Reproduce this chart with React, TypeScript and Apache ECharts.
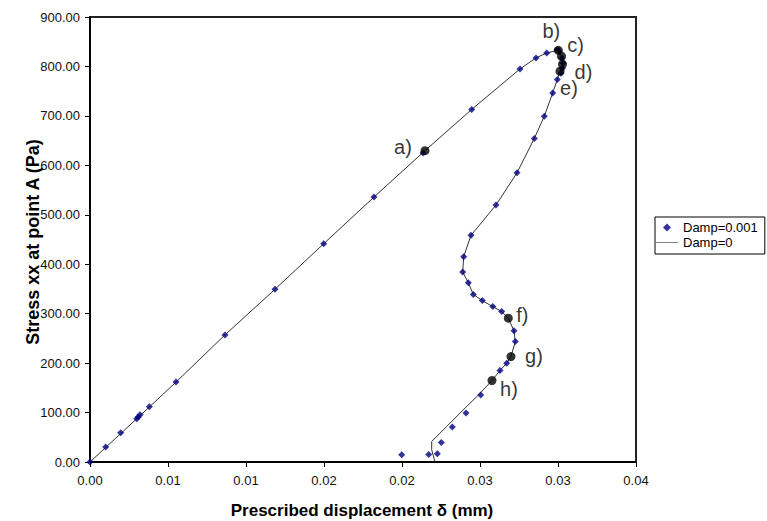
import React, { useEffect, useRef } from "react";
import * as echarts from "echarts";

const FONT = "'Liberation Sans', Arial, sans-serif";

const xTickLabels = ["0.00", "0.01", "0.01", "0.02", "0.02", "0.03", "0.03", "0.04"];
const yTickLabels = ["0.00", "100.00", "200.00", "300.00", "400.00", "500.00", "600.00", "700.00", "800.00", "900.00"];
const xMin = 0;
const xMax = 0.035;
const xInterval = 0.005;
const yMin = 0;
const yMax = 900;
const yInterval = 100;

const xTitle = "Prescribed displacement δ (mm)";
const yTitle = "Stress xx at point A (Pa)";
const seriesNames = ["Damp=0.001", "Damp=0"];

// Damp=0.001 : blue diamonds
const damp0001Points: [number, number][] = [
  [0, 0], [0.001006, 30.3], [0.001968, 59.2], [0.002994, 87.5], [0.003096, 90.9],
  [0.003205, 95.5], [0.003801, 111.7], [0.005513, 161.6], [0.008654, 257.1], [0.011859, 349.4],
  [0.014981, 441.5], [0.018205, 535.8], [0.021346, 624.7], [0.024468, 713], [0.027564, 795],
  [0.02859, 817.2], [0.029276, 827.3], [0.029955, 834.1], [0.030064, 830.7], [0.030256, 816.6],
  [0.030321, 806.5], [0.030288, 796.4], [0.030192, 786.3], [0.029955, 773.5], [0.02966, 746.5],
  [0.029122, 699.4], [0.028481, 654.4], [0.027372, 584.9], [0.026026, 519.7], [0.024423, 458.5],
  [0.023955, 415.3], [0.023891, 384.3], [0.02425, 362.7], [0.024571, 338.9], [0.025147, 326.4],
  [0.025821, 314.3], [0.026391, 304.2], [0.027179, 265.2], [0.027263, 243.6], [0.026712, 199.9],
  [0.026282, 185], [0.025045, 135.3], [0.024103, 99], [0.023224, 70.7], [0.022519, 39.6],
  [0.022263, 16.8], [0.021712, 15.3], [0.019981, 14.7],
];

// Damp=0 : thin line
const damp0Points: [number, number][] = [
  [0, 0], [0.002994, 87.5], [0.005513, 161.6], [0.008654, 257.1], [0.011859, 349.4],
  [0.014981, 441.5], [0.018205, 535.8], [0.021474, 629.7], [0.024468, 713], [0.027564, 795],
  [0.02859, 817.2], [0.029276, 827.3], [0.030019, 832.7], [0.030224, 820.6], [0.030288, 804.4],
  [0.030128, 790.3], [0.029955, 773.5], [0.02966, 746.5], [0.029122, 699.4], [0.028481, 654.4],
  [0.027372, 584.9], [0.026026, 519.7], [0.024423, 458.5], [0.023955, 415.3], [0.023891, 384.3],
  [0.02425, 362.7], [0.024571, 338.9], [0.025147, 326.4], [0.025821, 314.3], [0.026391, 304.2],
  [0.026814, 290.8], [0.027179, 265.2], [0.027263, 243.6], [0.026987, 213.3], [0.026712, 199.9],
  [0.026282, 185], [0.025769, 164.8], [0.024891, 135.3], [0.023718, 99], [0.022865, 71.9],
  [0.021904, 41.6], [0.021904, 24.8], [0.022115, 0],
];

// marked states a) ... h)
const markedNames = ["a)", "b)", "c)", "d)", "e)", "f)", "g)", "h)"];
const markedPoints: [number, number][] = [
  [0.021474, 629.7], [0.030019, 832.7], [0.030224, 820.6], [0.030288, 804.4],
  [0.030128, 790.3], [0.026814, 290.8], [0.026987, 213.3], [0.025769, 164.8],
];
// label offsets (style only)
const markedLabelOffsets: [number, number][] = [
  [-22, -4], [-7, -19], [14, -11], [21, 8], [9, 17], [14, -3], [23, -1], [17, 8],
];

export default function App() {
  const ref = useRef<HTMLDivElement>(null);

  useEffect(() => {
    if (!ref.current) return;
    const chart = echarts.init(ref.current, null, { renderer: "svg" });
    const axisCommon = {
      axisLine: { show: true, onZero: false, lineStyle: { color: "#000", width: 2 } },
      axisTick: { show: true, inside: false, length: 5, lineStyle: { color: "#000", width: 1 } },
      splitLine: { show: false },
    };
    chart.setOption({
      animation: false,
      backgroundColor: "#fff",
      textStyle: { fontFamily: FONT },
      grid: {
        left: 90, top: 17, right: 131, bottom: 59,
        show: true, borderColor: "#222", borderWidth: 2, backgroundColor: "transparent",
      },
      xAxis: {
        type: "value", min: xMin, max: xMax, interval: xInterval,
        ...axisCommon,
        axisLabel: {
          margin: 12, fontSize: 13, color: "#111", fontFamily: FONT,
          formatter: (v: number) => xTickLabels[Math.round((v - xMin) / xInterval)] ?? "",
        },
      },
      yAxis: {
        type: "value", min: yMin, max: yMax, interval: yInterval,
        ...axisCommon,
        axisLabel: {
          margin: 10, fontSize: 13, color: "#111", fontFamily: FONT,
          formatter: (v: number) => yTickLabels[Math.round((v - yMin) / yInterval)] ?? "",
        },
      },
      legend: {
        left: 655, top: 217, orient: "vertical",
        backgroundColor: "#fff", borderColor: "#000", borderWidth: 1,
        padding: [4, 7, 5, 1], itemGap: 2, itemWidth: 22, itemHeight: 8,
        textStyle: { fontSize: 13, color: "#000", fontFamily: FONT },
        data: [
          { name: seriesNames[0], icon: "path://M0,-1 L1,0 L0,1 L-1,0 Z", itemStyle: { color: "#000080" } },
          { name: seriesNames[1], icon: "path://M0,0 H44 V1 H0 Z", itemStyle: { color: "#000" } },
        ],
      },
      graphic: [
        {
          type: "text", x: 362, y: 510,
          style: {
            text: xTitle, fontSize: 17, fontWeight: "bold", fontFamily: FONT,
            fill: "#000", textAlign: "center", textVerticalAlign: "middle",
          },
        },
        {
          type: "text", x: 33, y: 242, rotation: Math.PI / 2,
          style: {
            text: yTitle, fontSize: 18, fontWeight: "bold", fontFamily: FONT,
            fill: "#000", textAlign: "center", textVerticalAlign: "middle",
          },
        },
      ],
      series: [
        {
          name: seriesNames[1], type: "line", data: damp0Points, symbol: "none",
          lineStyle: { color: "#333", width: 1 }, itemStyle: { color: "#333" }, z: 2,
        },
        {
          name: seriesNames[0], type: "scatter", data: damp0001Points, symbol: "diamond",
          symbolSize: 7, itemStyle: { color: "#000080" }, z: 3,
        },
        {
          name: "marked", type: "scatter", symbol: "circle", symbolSize: 9, z: 4,
          itemStyle: { color: "#000" },
          data: markedPoints.map((p, i) => ({
            value: p, name: markedNames[i],
            label: {
              show: true, position: "inside", offset: markedLabelOffsets[i],
              formatter: markedNames[i], fontSize: 20, color: "#000", fontFamily: FONT,
            },
          })),
        },
      ],
    });
    return () => chart.dispose();
  }, []);

  return (
    <div
      ref={ref}
      style={{ position: "fixed", left: 0, top: 0, width: 767, height: 521, background: "#fff" }}
    />
  );
}
